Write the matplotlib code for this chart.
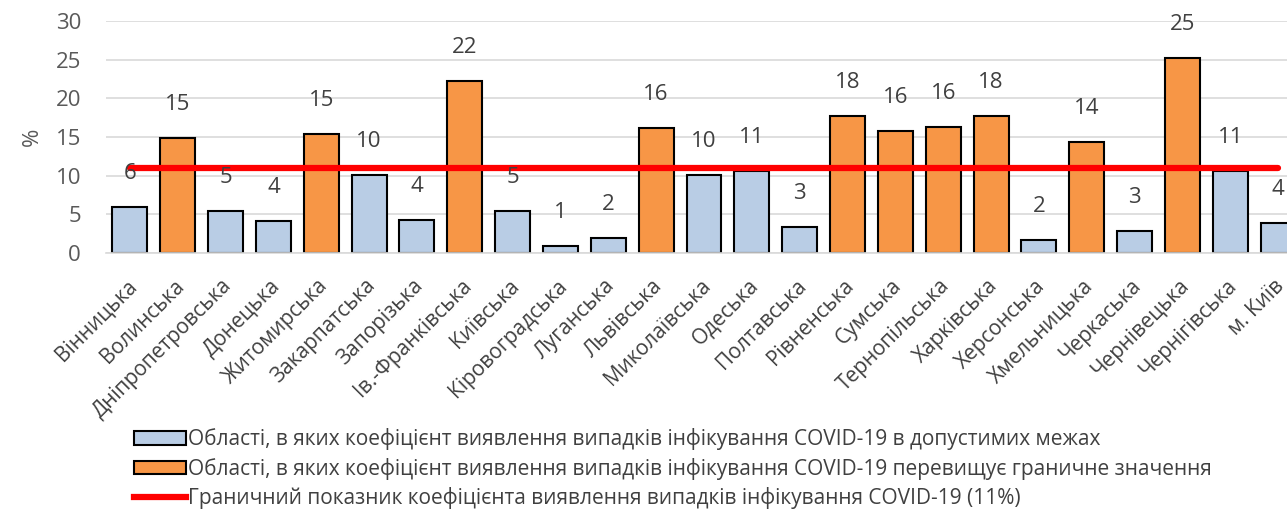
import numpy as np
import matplotlib
matplotlib.use('Agg')
import matplotlib.pyplot as plt
import matplotlib.transforms as mtransforms
from matplotlib.patches import Patch
from matplotlib.lines import Line2D

# Дані
oblasti = ['Вінницька', 'Волинська', 'Дніпропетровська', 'Донецька', 'Житомирська',
           'Закарпатська', 'Запорізька', 'Ів.-Франківська', 'Київська', 'Кіровоградська',
           'Луганська', 'Львівська', 'Миколаївська', 'Одеська', 'Полтавська',
           'Рівненська', 'Сумська', 'Тернопільська', 'Харківська', 'Херсонська',
           'Хмельницька', 'Черкаська', 'Чернівецька', 'Чернігівська', 'м. Київ']
koef = [6.0, 14.9, 5.4, 4.1, 15.4,
        10.1, 4.3, 22.3, 5.4, 0.9,
        1.9, 16.2, 10.1, 10.6, 3.4,
        17.7, 15.8, 16.3, 17.7, 1.7,
        14.4, 2.9, 25.2, 10.6, 3.9]
porog = 11

legenda = ['Області, в яких коефіцієнт виявлення випадків інфікування COVID-19 в допустимих межах',
           'Області, в яких коефіцієнт виявлення випадків інфікування COVID-19 перевищує граничне значення',
           'Граничний показник коефіцієнта виявлення випадків інфікування COVID-19 (11%)']

BLAKYTNYI = '#B9CDE5'
ORANZH = '#F79646'
CHERVONYI = '#FF0000'

plt.rcParams['font.family'] = ['Open Sans', 'DejaVu Sans']

W, H = 1287, 512
fig = plt.figure(figsize=(W / 100, H / 100), dpi=100)
ax = fig.add_axes([106 / W, (H - 253) / H, (1302 - 106) / W, (253 - 21) / H])

x = np.arange(len(oblasti))
kolory = [ORANZH if v > porog else BLAKYTNYI for v in koef]
ax.bar(x, koef, width=0.73, color=kolory, edgecolor='black', linewidth=1.5, zorder=2)

# граничне значення
ax.plot([x[0], x[-1]], [porog, porog], color=CHERVONYI, linewidth=4.5, zorder=3,
        solid_capstyle='round')

for xi, v in zip(x, koef):
    ax.annotate(f'{v:.0f}', (xi, v), xytext=(0, 24), textcoords='offset points',
                ha='center', va='center', fontsize=16, color='#404040', zorder=4)

ax.set_xlim(-0.5, len(oblasti) - 0.5)
ax.set_ylim(0, 30)
ax.set_yticks(range(0, 31, 5))
ax.grid(axis='y', color='#D9D9D9', linewidth=1.2, zorder=0)
ax.set_axisbelow(True)
for s in ['top', 'right', 'left']:
    ax.spines[s].set_visible(False)
ax.spines['bottom'].set_color('#D9D9D9')
ax.spines['bottom'].set_linewidth(1.2)
ax.tick_params(axis='both', length=0, colors='#595959')
ax.tick_params(axis='y', labelsize=16, pad=18)
ax.set_xticks(x)
ax.set_xticklabels(oblasti, rotation=45, ha='right', rotation_mode='anchor',
                   fontsize=15, color='#404040')
ax.tick_params(axis='x', pad=16)
zsuv = mtransforms.ScaledTranslation(-4 / 100, 0, fig.dpi_scale_trans)
for lbl in ax.get_xticklabels():
    lbl.set_transform(lbl.get_transform() + zsuv)
ax.set_ylabel('%', fontsize=16, color='#595959', labelpad=9)

handles = [Patch(facecolor=BLAKYTNYI, edgecolor='black', linewidth=1.5),
           Patch(facecolor=ORANZH, edgecolor='black', linewidth=1.5),
           Line2D([0], [0], color=CHERVONYI, linewidth=4.5)]
fig.legend(handles, legenda, loc='upper left', bbox_to_anchor=(126 / W, 1 - 420 / H),
           frameon=False, fontsize=15, labelcolor='#404040', handlelength=2.5,
           handleheight=0.6, handletextpad=0.1, labelspacing=0.36, borderaxespad=0)

fig.savefig('out.png', dpi=100)
